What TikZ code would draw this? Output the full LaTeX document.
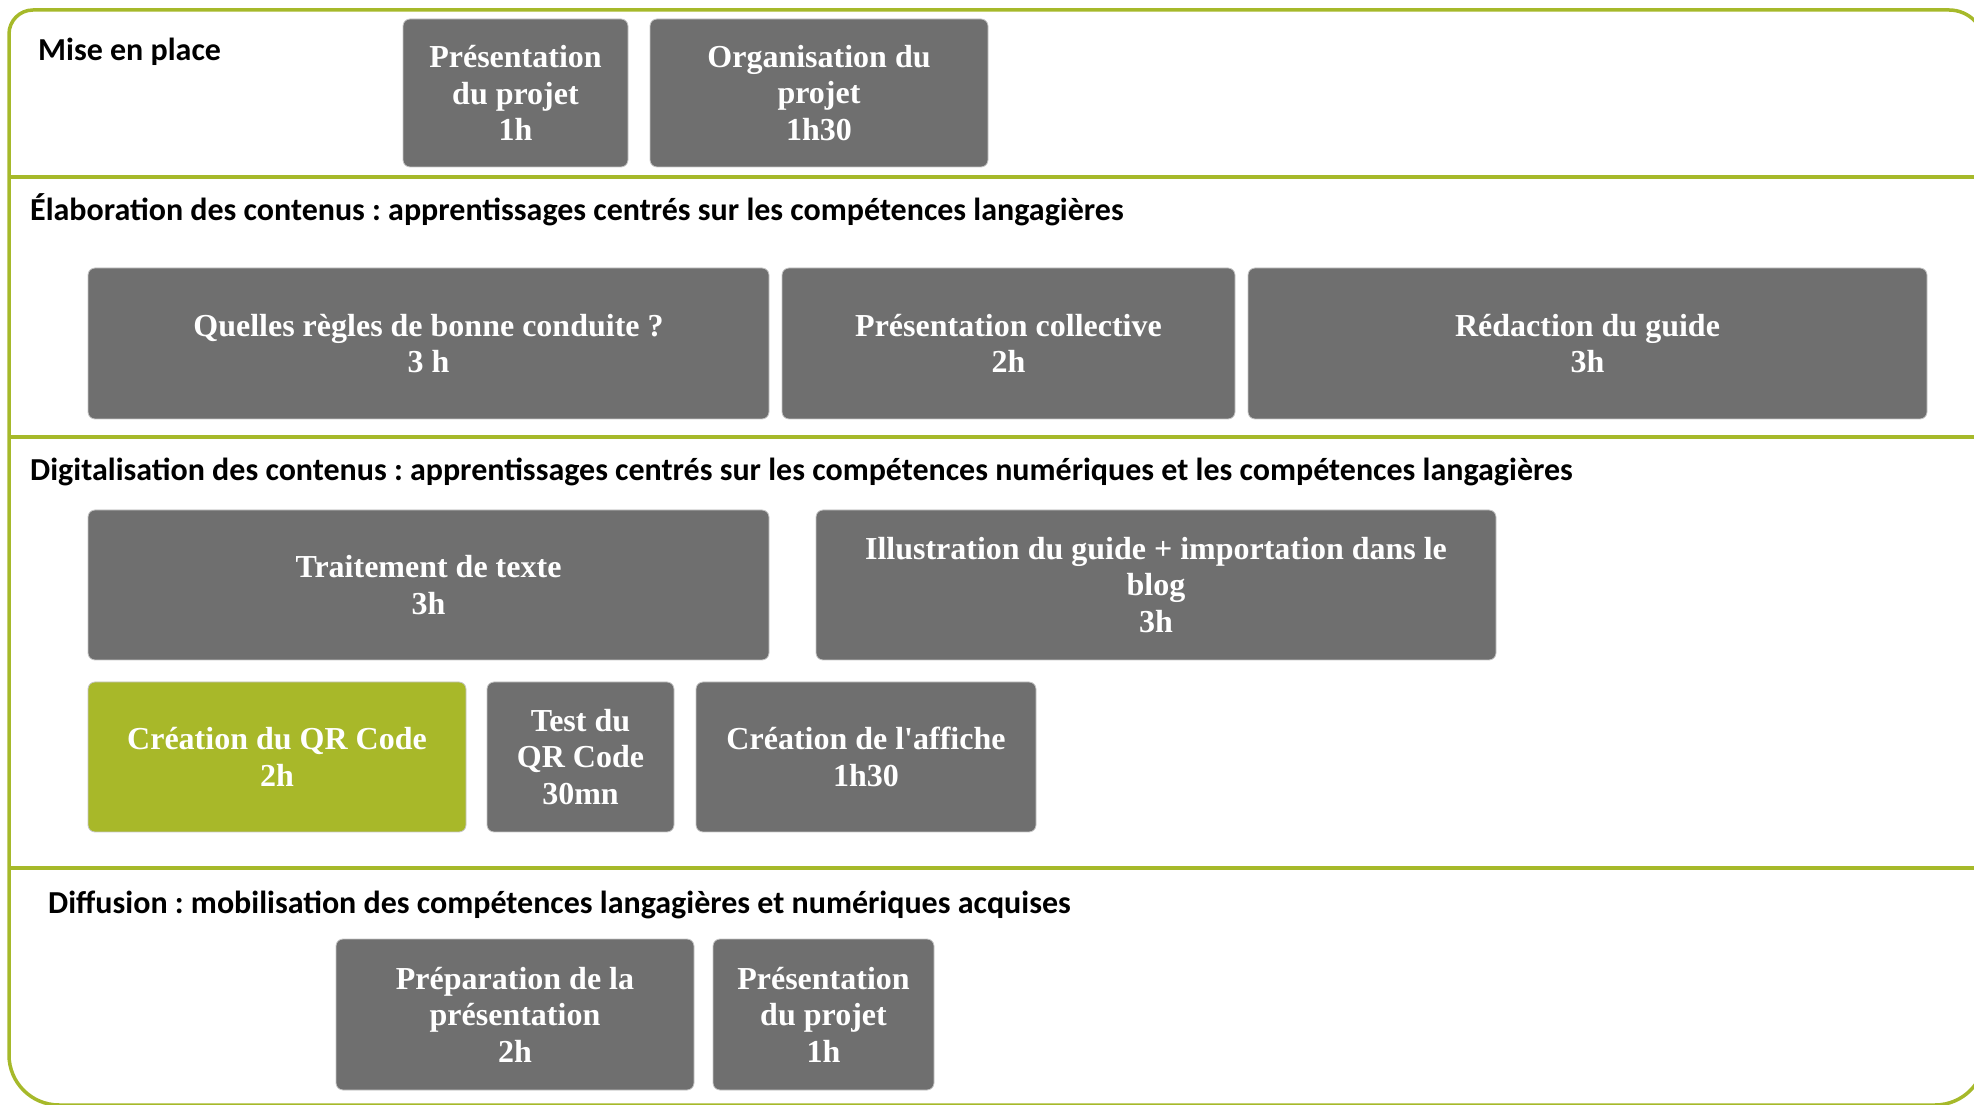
\documentclass[tikz,border=0pt]{standalone}
\usepackage{fontspec}
\setmainfont{Liberation Serif}
\newfontfamily\boxfont{Liberation Serif}[Ligatures=TeXOff]
\newfontfamily\headfont{Carlito}
\definecolor{framegreen}{RGB}{166,185,42}
\definecolor{qrgreen}{RGB}{168,184,41}
\definecolor{boxgray}{RGB}{111,111,111}
\tikzset{
  frameline/.style={draw=framegreen, line width=3.5pt},
  box/.style={rectangle, rounded corners=7pt, fill=boxgray, draw=gray!45, line width=0.8pt,
    inner sep=0pt, align=center, text=white,
    font=\boxfont\bfseries\fontsize{32}{36.5}\selectfont},
  greenbox/.style={box, fill=qrgreen},
  head/.style={anchor=base west, inner sep=0pt, text=black,
    font=\headfont\bfseries\fontsize{32}{36}\selectfont\frenchspacing}
}
\begin{document}
\begin{tikzpicture}[x=1pt,y=1pt]
\useasboundingbox (0,0) rectangle (1974,1104);
\begin{scope}
\clip (0,0) rectangle (1974,1104);
\draw[frameline] (9,49) -- (9,1070) arc[start angle=180,end angle=90,radius=24pt]
  -- (1949,1094) arc[start angle=90,end angle=0,radius=36pt]
  -- (1985,49) arc[start angle=0,end angle=-90,radius=50pt]
  -- (59,-1) arc[start angle=270,end angle=180,radius=50pt] -- cycle;
\coordinate (s1l) at (9,927);   \coordinate (s1r) at (1990,927);
\coordinate (s2l) at (9,667);   \coordinate (s2r) at (1990,667);
\coordinate (s3l) at (9,236);   \coordinate (s3r) at (1990,236);
\draw[frameline] (s1l) -- (s1r);
\draw[frameline] (s2l) -- (s2r);
\draw[frameline] (s3l) -- (s3r);
\end{scope}

% headers
\node[head] (h1) at (38,1043) {Mise en place};
\node[head] (h2) at (30,883) {Élaboration des contenus : apprentissages centrés sur les compétences langagières};
\node[head] (h3) at (30,623) {Digitalisation des contenus : apprentissages centrés sur les compétences numériques et les compétences langagières};
\node[head] (h4) at (48,190) {Diffusion : mobilisation des compétences langagières et numériques acquises};

% row 1
\node[box, minimum width=225, minimum height=148] (a1) at (515.5,1011) {Présentation\\du projet\\1h};
\node[box, minimum width=338, minimum height=148] (a2) at (819,1011) {Organisation du\\projet\\1h30};

% row 2
\node[box, minimum width=681, minimum height=151] (b1) at (428.5,760.5) {Quelles règles de bonne conduite ?\\3 h};
\node[box, minimum width=453, minimum height=151] (b2) at (1008.5,760.5) {Présentation collective\\2h};
\node[box, minimum width=679, minimum height=151] (b3) at (1587.5,760.5) {Rédaction du guide\\3h};

% row 3
\node[box, minimum width=681, minimum height=150] (c1) at (428.5,519) {Traitement de texte\\3h};
\node[box, minimum width=680, minimum height=150] (c2) at (1156,519) {Illustration du guide + importation dans le\\blog\\3h};

% row 4
\node[greenbox, minimum width=378, minimum height=150] (d1) at (277,347) {Création du QR Code\\2h};
\node[box, minimum width=187, minimum height=150] (d2) at (580.5,347) {Test du\\QR Code\\30mn};
\node[box, minimum width=340, minimum height=150] (d3) at (866,347) {Création de l'affiche\\1h30};

% row 5
\node[box, minimum width=358, minimum height=151] (e1) at (515,89.5) {Préparation de la\\présentation\\2h};
\node[box, minimum width=221, minimum height=151] (e2) at (823.5,89.5) {Présentation\\du projet\\1h};
\end{tikzpicture}
\end{document}
